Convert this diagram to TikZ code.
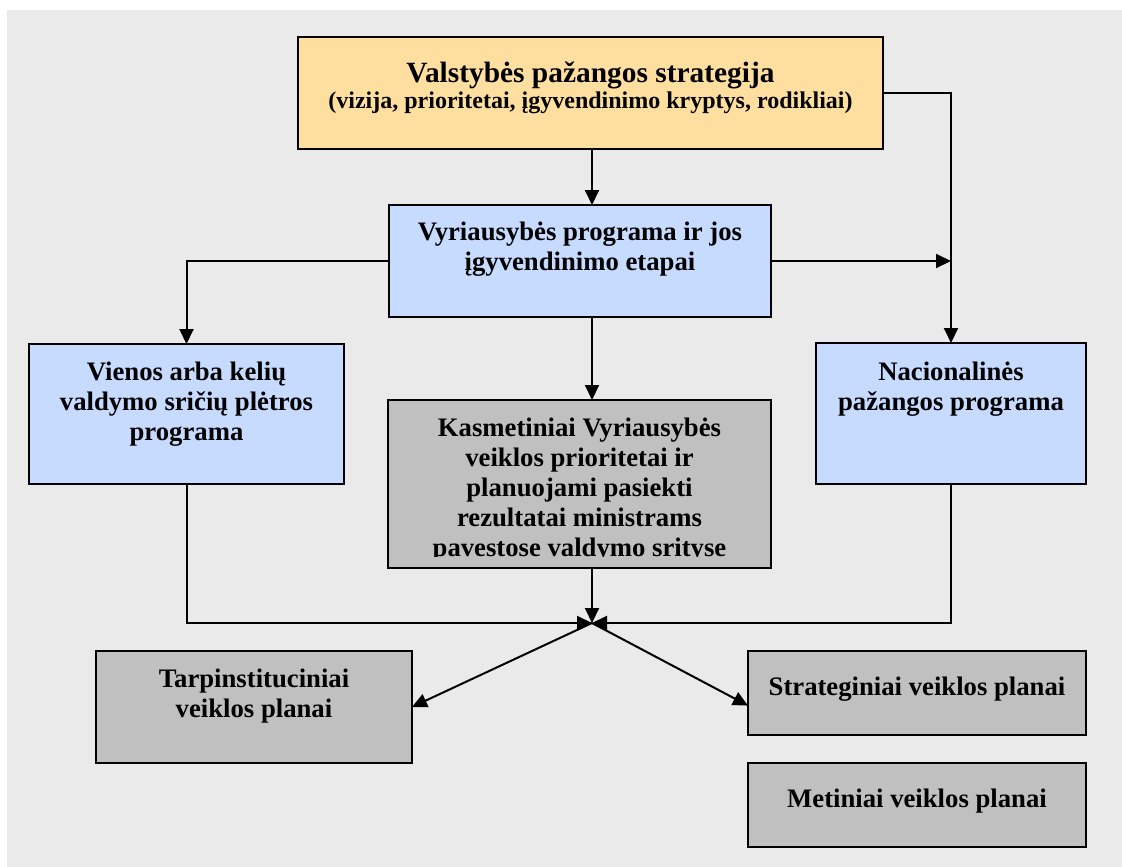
\documentclass[tikz,border=0pt]{standalone}
\usepackage{fontspec}
\setmainfont{Liberation Serif}
\usetikzlibrary{arrows.meta,calc}

\definecolor{pagebg}{RGB}{234,234,234}
\definecolor{sandfill}{RGB}{255,223,159}
\definecolor{skyfill}{RGB}{198,219,255}
\definecolor{greyfill}{RGB}{192,192,192}

% box text: width, height, height of the first line (to its baseline), lines
\newcommand\bxt[4]{\parbox[c][#2pt][t]{#1pt}{\centering\rule{0pt}{#3pt}#4}}

\tikzset{
  panel/.style={draw=black, line width=2pt, inner sep=0pt, outer sep=0pt,
    anchor=north west, font=\bfseries\fontsize{26.7}{30}\selectfont},
  flow/.style={line width=2pt, -{Triangle[length=15pt,width=14pt]}},
}

\begin{document}
\begin{tikzpicture}[x=1pt,y=-1pt]
\useasboundingbox (0,0) rectangle (1122,867);
\fill[white] (0,0) rectangle (1122,867);
\fill[pagebg] (7,10) rectangle (1122,867);

% strategy on top
\node[panel, fill=sandfill] (vps) at (298,37)
  {\parbox[c][112pt][t]{585pt}{\centering
   {\fontsize{29.4}{26}\selectfont\rule{0pt}{45pt}Valstybės pažangos strategija\par}%
   {\fontsize{24}{26}\selectfont (vizija, prioritetai, įgyvendinimo kryptys, rodikliai)\par}}};

% programmes
\node[panel, fill=skyfill] (vyr) at (389,205)
  {\bxt{382}{112}{35}{Vyriausybės programa ir jos\\įgyvendinimo etapai}};
\node[panel, fill=skyfill] (vkp) at (29,344)
  {\bxt{315}{140}{36}{Vienos arba kelių\\valdymo sričių plėtros\\programa}};
\node[panel, fill=skyfill] (npp) at (816,343)
  {\bxt{270}{141}{37}{Nacionalinės\\pažangos programa}};

% yearly priorities, text cut off by the box margin
\node[panel, fill=greyfill] (kvp) at (388,400) {\bxt{383}{168}{0}{}};
\begin{scope}
  \clip (kvp.north west) rectangle ([yshift=12pt]kvp.south east);
  \node[panel, draw=none] (kvptext) at (388,400)
    {\bxt{383}{168}{36}{Kasmetiniai Vyriausybės\\veiklos prioritetai ir\\planuojami pasiekti\\rezultatai ministrams\\pavestose valdymo srityse}};
\end{scope}

% plans
\node[panel, fill=greyfill] (tvp) at (96,651)
  {\bxt{316}{112}{36}{Tarpinstituciniai\\veiklos planai}};
\node[panel, fill=greyfill] (svp) at (748,651)
  {\bxt{338}{84}{44}{Strateginiai veiklos planai}};
\node[panel, fill=greyfill] (mvp) at (748,763)
  {\bxt{338}{84}{44}{Metiniai veiklos planai}};

\coordinate (hub) at (592,623);

% connectors
\draw[flow] (vps.south -| hub) -- (vyr.north -| hub);
\draw[flow] (vps.east) -| (npp.north);
\draw[flow] (vyr.west) -| (vkp.north);
\draw[flow] (vyr.east) -- (vyr.east -| npp.north);
\draw[flow] (vyr.south -| hub) -- (kvp.north -| hub);
\draw[flow] (kvp.south -| hub) -- (hub);
\draw[flow] (vkp.south) |- (hub);
\draw[flow] (npp.south) |- (hub);
\draw[flow] (hub) -- (tvp.east);
\draw[flow] (hub) -- ($(svp.north west)!0.65!(svp.south west)$);
\end{tikzpicture}
\end{document}
